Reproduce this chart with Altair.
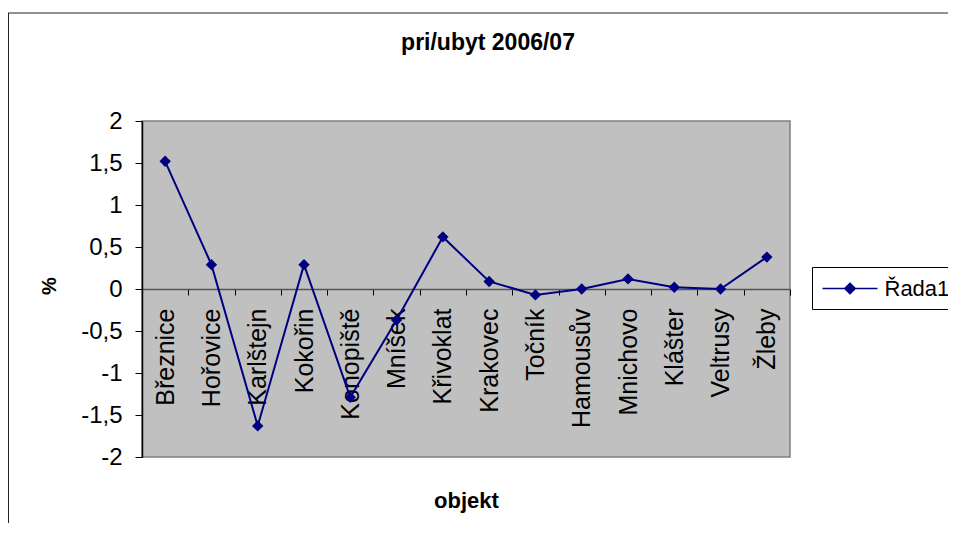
import altair as alt
import pandas as pd

categories = ["Březnice", "Hořovice", "Karlštejn", "Kokořin", "Konopiště", "Mníšek",
              "Křivoklat", "Krakovec", "Točník", "Hamousův", "Mnichovo", "Klášter",
              "Veltrusy", "Žleby"]
values = [1.52, 0.29, -1.63, 0.29, -1.29, -0.37, 0.62, 0.09, -0.07, 0.0, 0.12, 0.02, 0.0, 0.38]
series_name = "Řada1"
y_ticks = [-2, -1.5, -1, -0.5, 0, 0.5, 1, 1.5, 2]

df = pd.DataFrame({"objekt": categories, "value": values, "series": [series_name] * len(categories)})

FONT = "Liberation Sans"
NAVY = "#000080"
W, H = 648, 336

x_enc = alt.X(
    "objekt:N", sort=categories,
    scale=alt.Scale(type="band", paddingInner=0, paddingOuter=0),
    axis=alt.Axis(
        title="objekt", orient="bottom", offset=-168,
        labelAngle=270, labelFont=FONT, labelFontSize=25, labelColor="black",
        labelPadding=13, labelOverlap=False, labelLimit=0,
        tickBand="extent", tickSize=6, tickColor="black", tickWidth=1,
        domainColor="#555555", domainWidth=1.5, grid=False,
        titleFont=FONT, titleFontSize=22, titleFontWeight="bold", titleColor="black",
        titleX=324, titleY=218, titleAlign="center", titleBaseline="alphabetic",
    ),
)
y_enc = alt.Y(
    "value:Q",
    scale=alt.Scale(domain=[-2, 2], nice=False, zero=False),
    axis=alt.Axis(
        title="%", values=y_ticks,
        labelExpr="replace(toString(datum.value), '.', ',')",
        labelFont=FONT, labelFontSize=24, labelColor="black", labelPadding=13,
        tickSize=7, tickColor="black", tickWidth=1,
        domainColor="black", domainWidth=1.5, grid=False,
        titleFont=FONT, titleFontSize=20, titleFontWeight="bold", titleColor="black",
        titleX=-93, titleY=164.5, titleAlign="center", titleBaseline="middle",
    ),
)

# legend symbol: a line with a diamond, drawn wider than its nominal box
legend_symbol = "M-2.39,0L2.39,0M0,-0.46L0.46,0L0,0.46L-0.46,0Z"

base = alt.Chart(df)
line = base.mark_line(color=NAVY, strokeWidth=2).encode(x=x_enc, y=y_enc)
points = base.mark_point(shape="diamond", filled=True, size=130, opacity=1).encode(
    x=alt.X("objekt:N", sort=categories),
    y="value:Q",
    color=alt.Color(
        "series:N", scale=alt.Scale(range=[NAVY]),
        legend=alt.Legend(
            title=None, orient="none", legendX=670, legendY=146,
            strokeColor="black", fillColor="white", padding=9,
            symbolType=legend_symbol, symbolSize=529, symbolStrokeWidth=1.5,
            symbolFillColor=NAVY, symbolStrokeColor=NAVY, symbolOffset=16.5,
            labelFont=FONT, labelFontSize=22, labelColor="black", labelOffset=22,
        ),
    ),
)

frame = pd.DataFrame({"a": [0]})
top_border = alt.Chart(frame).mark_rule(color="#222222", strokeWidth=1).encode(
    x=alt.value(-134), x2=alt.value(806), y=alt.value(-108))
left_border = alt.Chart(frame).mark_rule(color="#222222", strokeWidth=1).encode(
    x=alt.value(-133.5), y=alt.value(-108), y2=alt.value(402))

chart = alt.layer(line, points, top_border, left_border).properties(
    width=W, height=H,
    title=alt.TitleParams(
        "pri/ubyt 2006/07", anchor="middle", frame="group", dx=22, offset=0, dy=60,
        baseline="alphabetic",
        font=FONT, fontSize=23, fontWeight="bold", color="black",
    ),
    autosize=alt.AutoSizeParams(type="none"),
    padding={"left": 134, "top": 113, "right": 158, "bottom": 66},
    background="white",
).configure_view(fill="#C0C0C0", stroke="#808080", strokeWidth=1.5)

chart.save("out.html", embed_options={"renderer": "svg", "actions": False})
